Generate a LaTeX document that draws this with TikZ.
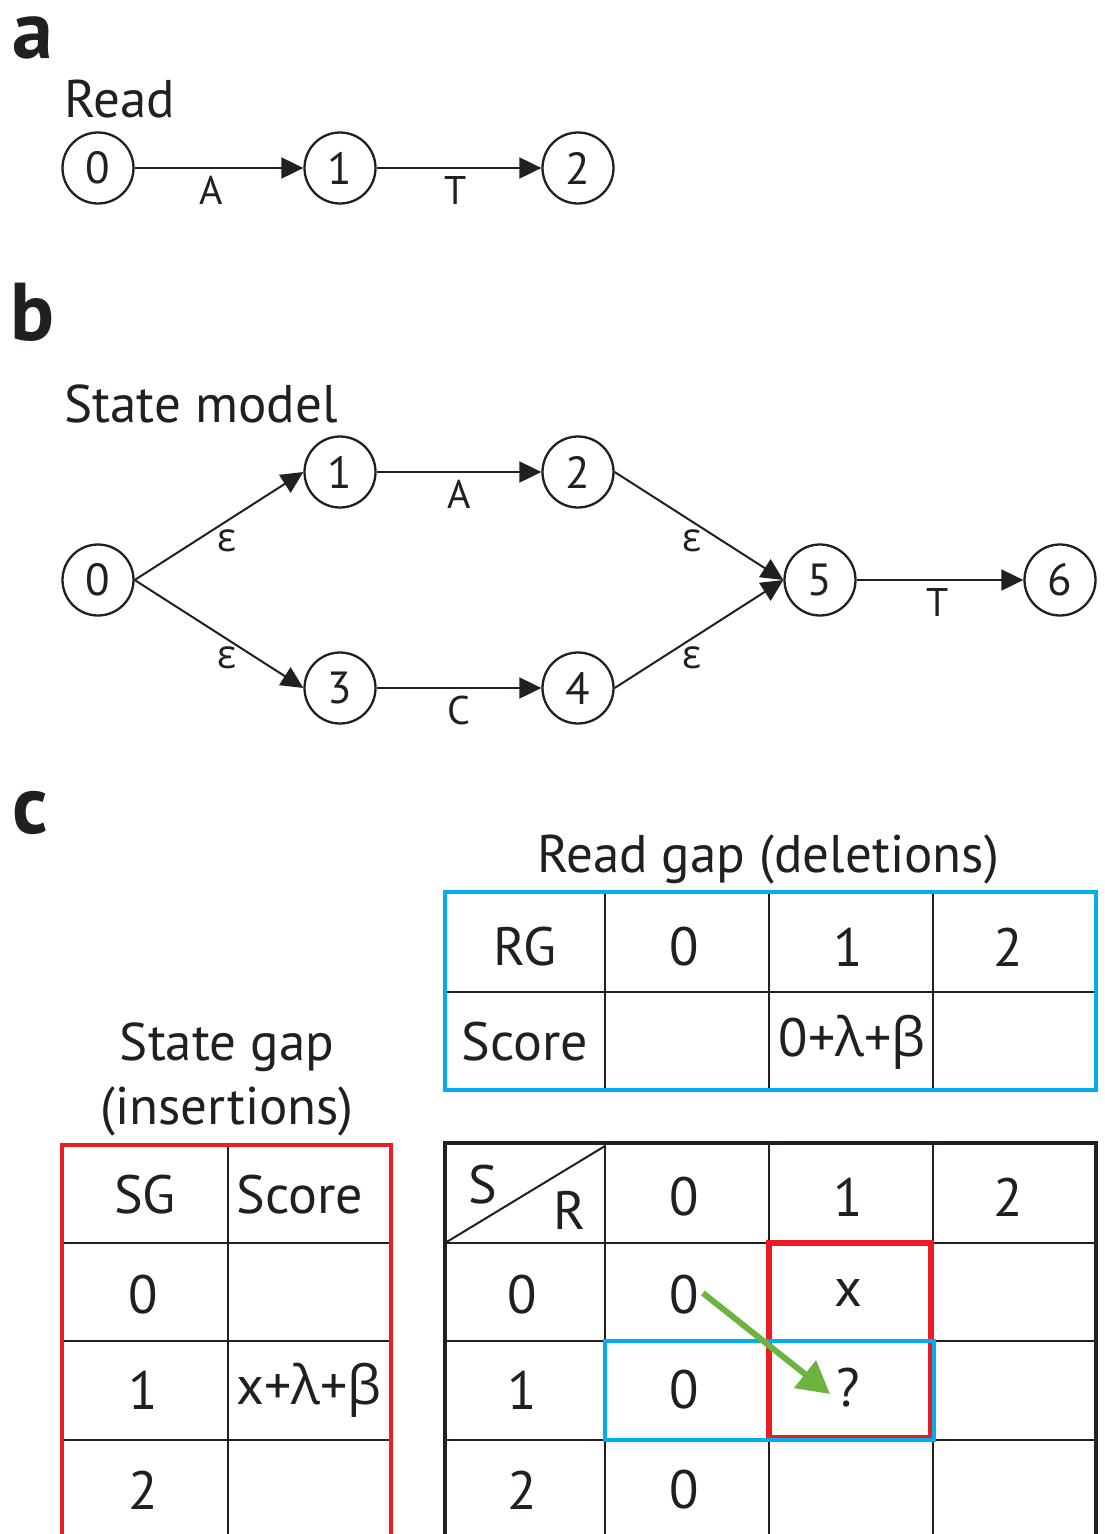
\documentclass[tikz,border=0pt]{standalone}
\usepackage{fontspec}
\setmainfont{PT Sans}
\newfontfamily\greekfont{Open Sans}
\usetikzlibrary{arrows.meta}

\definecolor{ink}{HTML}{231F20}
\definecolor{gapred}{HTML}{ED1C24}
\definecolor{gapblue}{HTML}{00AEEF}
\definecolor{pathgreen}{HTML}{6DB33F}

\newcommand{\lam}{{\greekfont λ}}
\newcommand{\bet}{{\greekfont β}}
\newcommand{\eps}{{\greekfont ε}}

\tikzset{
  panel/.style={anchor=base west,inner sep=0pt,font=\fontsize{82}{82}\selectfont\bfseries},
  heading/.style={anchor=base west,font=\fontsize{53}{53}\selectfont},
  state/.style={circle,draw=ink,line width=2.3pt,minimum size=71pt,inner sep=0pt,font=\fontsize{45}{45}\selectfont},
  trans/.style={draw=ink,line width=2pt,-{Triangle[length=22pt,width=21pt]}},
  sym/.style={font=\fontsize{40}{40}\selectfont,inner sep=2pt},
  cell/.style={font=\fontsize{54}{54}\selectfont,inner sep=0pt},
  grid/.style={draw=ink,line width=2.4pt},
}

\begin{document}
\begin{tikzpicture}[x=1pt,y=-1pt,text=ink]
    \clip (0,0) rectangle (1104,1534);
    \fill[white] (0,0) rectangle (1104,1534);

    % a
    \node[panel] (la) at (12,58) {a};
    \node[heading] (read) at (61,117) {Read};
    \node[state] (r0) at (98,168) {0};
    \node[state] (r1) at (340,168) {1};
    \node[state] (r2) at (578,168) {2};
    \draw[trans] (r0) -- node[sym,below=5pt,xshift=-8pt] (ra) {A} (r1);
    \draw[trans] (r1) -- node[sym,below=5pt,xshift=-3pt] (rt) {T} (r2);

    % b
    \node[panel] (lb) at (10,340) {b};
    \node[heading] (model) at (61,422) {State model};
    \node[state] (s0) at (98,580) {0};
    \node[state] (s1) at (340,472) {1};
    \node[state] (s2) at (578,472) {2};
    \node[state] (s3) at (340,688) {3};
    \node[state] (s4) at (578,688) {4};
    \node[state] (s5) at (820,580) {5};
    \node[state] (s6) at (1060,580) {6};
    \draw[trans] (s0.east) -- node[sym,below=1pt,xshift=8pt] {\eps} (s1.west);
    \draw[trans] (s0.east) -- node[sym,below=10pt,xshift=8pt] {\eps} (s3.west);
    \draw[trans] (s1) -- node[sym,below=5pt] {A} (s2);
    \draw[trans] (s3) -- node[sym,below=5pt] {C} (s4);
    \draw[trans] (s2.east) -- node[sym,below=1pt,xshift=-7pt] {\eps} (s5.west);
    \draw[trans] (s4.east) -- node[sym,below=10pt,xshift=-7pt] {\eps} (s5.west);
    \draw[trans] (s5) -- node[sym,below=5pt,xshift=-2pt] {T} (s6);

    % c
    \node[panel] (lc) at (12,833) {c};
    \node[heading,anchor=base] (rgtitle) at (768,872) {Read gap (deletions)};
    \node[heading,anchor=base] (sgtitle) at (227,1060) {State gap};
    \node[heading,anchor=base] (sgsub) at (227,1124) {(insertions)};

    % read gap table
    \draw[grid] (605,892) -- (605,1090) (769,892) -- (769,1090) (933,892) -- (933,1090);
    \draw[grid] (445,992) -- (1096,992);
    \draw[gapblue,line width=4.5pt] (445,892) rectangle (1096,1090);
    \node[cell] (rg) at (525,947) {RG};
    \foreach \i/\x in {0/684,1/848,2/1008}
        \node[cell] (rg\i) at (\x,947) {\i};
    \node[cell] (rgscore) at (525,1042) {Score};
    \node[cell] (rgval) at (852,1042) {0+\lam+\bet};

    % state gap table
    \draw[grid] (228,1145) -- (228,1540);
    \foreach \y in {1243,1341,1440}
        \draw[grid] (62,\y) -- (391,\y);
    \draw[gapred,line width=4.5pt] (62,1560) -- (62,1145) -- (391,1145) -- (391,1560);
    \node[cell] (sg) at (145,1195) {SG};
    \node[cell] (sgscore) at (300,1195) {Score};
    \foreach \i/\y in {0/1295,1/1390,2/1490}
        \node[cell] (sg\i) at (143,\y) {\i};
    \node[cell] (sgval) at (309,1390) {x+\lam+\bet};

    % score matrix
    \foreach \x in {605,769,933}
        \draw[grid] (\x,1143) -- (\x,1540);
    \foreach \y in {1243,1341,1440}
        \draw[grid] (445,\y) -- (1096,\y);
    \draw[ink,line width=4pt] (445,1560) -- (445,1143) -- (1096,1143) -- (1096,1560);
    \draw[grid,line width=2pt] (445,1243) -- (605,1146);
    \node[cell] (hs) at (483,1185) {S};
    \node[cell] (hr) at (570,1210) {R};
    \foreach \i/\x in {0/684,1/848,2/1008}
        \node[cell] (col\i) at (\x,1197) {\i};
    \foreach \i/\y in {0/1295,1/1390,2/1490} {
        \node[cell] (row\i) at (522,\y) {\i};
        \node[cell] (m\i0) at (684,\y) {0};
    }
    \node[cell] (m01) at (848,1293) {x};
    \node[cell] (m11) at (848,1388) {?};

    \draw[gapred,line width=6pt] (769,1243) rectangle (931,1438);
    \draw[gapblue,line width=4.5pt] (605,1341) rectangle (934,1440);
    \draw[pathgreen,line width=6pt,-{Triangle[length=32pt,width=34pt]}]
        (m00.east) ++(4pt,2pt) -- ([xshift=-6pt,yshift=-6pt]m11.west);
\end{tikzpicture}
\end{document}
